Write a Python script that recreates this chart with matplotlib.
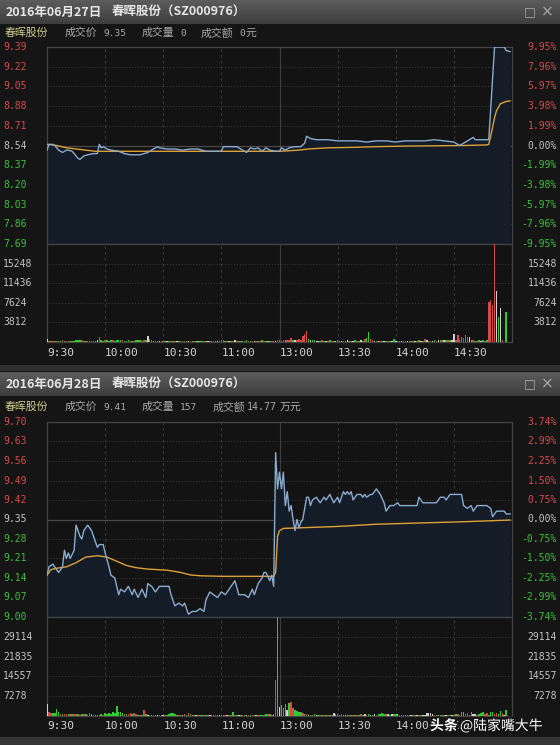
import matplotlib
matplotlib.use('Agg')
import matplotlib.pyplot as plt
import numpy as np
from matplotlib.transforms import blended_transform_factory as blend
from matplotlib.colors import LinearSegmentedColormap
from matplotlib.patches import Rectangle
import matplotlib.patheffects as pe

# ---------------- data ----------------
TIME_TICK_MIN = [0, 30, 60, 90, 120, 150, 180, 210]
TIME_LABELS = ['9:30', '10:00', '10:30', '11:00', '13:00', '13:30', '14:00', '14:30']

# panel 1 : 2016-06-27
P1_TITLE_DATE = '2016年06月27日'
P1_TITLE_NAME = '春晖股份（SZ000976）'
P1_INFO = ['9.35', '0', '0元']
P1_PRICE_TICKS = [9.39, 9.22, 9.05, 8.88, 8.71, 8.54, 8.37, 8.20, 8.03, 7.86, 7.69]
P1_PRICE_LABELS = ['9.39', '9.22', '9.05', '8.88', '8.71', '8.54', '8.37', '8.20', '8.03', '7.86', '7.69']
P1_PCT_LABELS = ['9.95%', '7.96%', '5.97%', '3.98%', '1.99%', '0.00%', '-1.99%', '-3.98%', '-5.97%', '-7.96%', '-9.95%']
P1_VOL_TICKS = [15248, 11436, 7624, 3812]
P1_VOL_MAX = 19060
P1_MIN = [0, 1, 3, 4, 6, 8, 10, 11, 13, 14, 16, 17, 19, 21, 24, 26, 27, 28, 29, 31, 33, 37, 40, 43, 48, 50,
          52, 55, 57, 58, 62, 66, 70, 74, 78, 82, 90, 91, 95, 98, 100, 103, 105, 107, 109, 111, 113, 115, 118,
          120, 121, 123, 125, 128, 131, 133, 134, 136, 139, 145, 150, 155, 160, 165, 170, 175, 180, 185, 190,
          195, 200, 205, 210, 213, 216, 220, 221, 224, 228, 231, 236, 237, 239]
P1_PRICE = [8.50, 8.55, 8.55, 8.54, 8.50, 8.48, 8.50, 8.50, 8.49, 8.47, 8.43, 8.42, 8.45, 8.46, 8.47, 8.47, 8.55,
            8.52, 8.53, 8.51, 8.50, 8.49, 8.47, 8.46, 8.46, 8.47, 8.48, 8.51, 8.53, 8.52, 8.51, 8.51, 8.50, 8.51,
            8.51, 8.49, 8.49, 8.53, 8.53, 8.53, 8.51, 8.48, 8.52, 8.51, 8.52, 8.49, 8.52, 8.50, 8.49, 8.49, 8.52,
            8.50, 8.52, 8.53, 8.53, 8.56, 8.62, 8.60, 8.59, 8.59, 8.58, 8.58, 8.58, 8.57, 8.58, 8.58, 8.57, 8.58,
            8.58, 8.58, 8.59, 8.58, 8.57, 8.54, 8.57, 8.61, 8.59, 8.59, 8.59, 9.39, 9.39, 9.36, 9.35]
P1_AVG_MIN = [0, 5, 10, 15, 25, 40, 80, 120, 130, 135, 145, 160, 170, 185, 200, 215, 227, 228, 229, 230, 231, 232,
              234, 237, 239]
P1_AVG = [8.55, 8.54, 8.52, 8.51, 8.49, 8.49, 8.49, 8.49, 8.50, 8.51, 8.52, 8.525, 8.53, 8.535, 8.537, 8.54, 8.545,
          8.55, 8.62, 8.70, 8.78, 8.84, 8.90, 8.92, 8.925]
P1_VOL = [500, 200, 150, 200, 250, 150, 200, 150, 300, 200, 150, 200, 250, 200, 150, 400, 450, 400, 350, 200,
          200, 150, 200, 250, 200, 200, 300, 1050, 300, 200, 350, 300, 250, 400, 300, 200, 300, 350, 400, 300,
          250, 200, 300, 250, 200, 250, 300, 350, 300, 250, 400, 300, 1240, 500, 300, 200, 250, 200, 150, 200,
          150, 200, 150, 200, 250, 200, 150, 200, 250, 150, 200, 150, 200, 250, 200, 150, 200, 250, 200, 150,
          200, 150, 200, 150, 250, 200, 150, 200, 150, 200, 300, 350, 250, 200, 150, 200, 250, 300, 250, 200,
          200, 250, 200, 300, 200, 250, 200, 150, 200, 250, 200, 300, 200, 250, 150, 200, 250, 200, 150, 300,
          300, 250, 300, 350, 300, 350, 700, 400, 350, 300, 600, 400, 1170, 1500, 2090, 500, 300, 350, 300, 250,
          250, 200, 300, 250, 200, 250, 300, 200, 250, 200, 300, 250, 200, 250, 200, 300, 250, 200, 250, 300,
          250, 200, 300, 250, 600, 700, 1950, 500, 300, 250, 200, 200, 150, 200, 200, 200, 250, 200, 200, 500,
          200, 250, 200, 150, 200, 250, 200, 150, 200, 250, 200, 250, 300, 200, 250, 600, 300, 250, 200, 250,
          300, 250, 300, 350, 300, 400, 300, 350, 300, 300, 1500, 400, 1430, 300, 900, 700, 1300, 1000, 900, 300,
          300, 250, 250, 300, 250, 300, 250, 300, 7820, 8210, 7170, 19100, 9970, 4950, 6520, 300, 0, 5870, 0, 0]
P1_VOL_COLOR = ("wrgrrgggrgrgrgggggrr" "grgrrgwrggrgggrggggr" "gggrgrgggrrgwrrgrgwr" "rgwgrgrwgrgrgwrgrgwg"
                "grgwrgrgwrrrgrwgrwrg" "grggrgrwrgrgrgwgrgwr" "rgrgrrrgwrrrrrrgwggw" "wgrgwrgrgwrgwrgwrgwg"
                "rgwgrggrrwgwrgwgrgwg" "wrgwgrwgrgwrgwgrwgrw" "grwgrwgrgwwrrgrrrrwg" "rgrgwgrgrrrrwgwrggwg")

# panel 2 : 2016-06-28
P2_TITLE_DATE = '2016年06月28日'
P2_TITLE_NAME = '春晖股份（SZ000976）'
P2_INFO = ['9.41', '157', '14.77', '万元']
P2_PRICE_TICKS = [9.70, 9.63, 9.56, 9.49, 9.42, 9.35, 9.28, 9.21, 9.14, 9.07, 9.00]
P2_PRICE_LABELS = ['9.70', '9.63', '9.56', '9.49', '9.42', '9.35', '9.28', '9.21', '9.14', '9.07', '9.00']
P2_PCT_LABELS = ['3.74%', '2.99%', '2.25%', '1.50%', '0.75%', '0.00%', '-0.75%', '-1.50%', '-2.25%', '-2.99%', '-3.74%']
P2_VOL_TICKS = [29114, 21835, 14557, 7278]
P2_VOL_MAX = 36392
P2_MIN = [0, 1, 3, 4, 6, 8, 9, 10, 11, 12, 14, 15, 17, 18, 19, 21, 23, 25, 26, 27, 29, 30, 32, 33, 35, 37, 38, 40,
          42, 44, 45, 47, 49, 51, 52, 54, 56, 58, 61, 63, 64, 66, 68, 70, 71, 73, 75, 77, 79, 81, 82, 84, 86, 88,
          90, 92, 94, 95, 97, 99, 100, 102, 104, 106, 107, 109, 111, 112, 113, 115, 116, 117, 118, 119, 120, 121,
          122, 123, 124, 125, 126, 127, 128, 129, 130, 131, 132, 134, 135, 136, 137, 139, 141, 143, 144, 146, 148,
          150, 151, 153, 154, 155, 156, 157, 158, 160, 162, 163, 164, 165, 167, 168, 170, 172, 174, 175, 177, 179,
          181, 182, 191, 192, 194, 201, 203, 205, 206, 208, 210, 212, 214, 215, 217, 219, 220, 222, 227, 229, 230,
          232, 236, 237, 239]
P2_PRICE = [9.15, 9.18, 9.19, 9.18, 9.16, 9.18, 9.24, 9.21, 9.23, 9.21, 9.24, 9.33, 9.29, 9.28, 9.31, 9.33, 9.31,
            9.27, 9.25, 9.26, 9.26, 9.23, 9.18, 9.15, 9.14, 9.08, 9.10, 9.09, 9.11, 9.08, 9.10, 9.07, 9.10, 9.07,
            9.12, 9.11, 9.09, 9.11, 9.11, 9.11, 9.08, 9.04, 9.05, 9.04, 9.05, 9.01, 9.02, 9.02, 9.03, 9.02, 9.06,
            9.09, 9.08, 9.07, 9.09, 9.08, 9.10, 9.11, 9.13, 9.08, 9.08, 9.08, 9.07, 9.10, 9.08, 9.12, 9.14, 9.16,
            9.16, 9.13, 9.15, 9.11, 9.59, 9.46, 9.52, 9.46, 9.52, 9.40, 9.45, 9.38, 9.40, 9.35, 9.31, 9.35, 9.32,
            9.34, 9.35, 9.43, 9.43, 9.40, 9.42, 9.43, 9.41, 9.43, 9.42, 9.44, 9.41, 9.43, 9.41, 9.45, 9.44, 9.45,
            9.44, 9.45, 9.42, 9.44, 9.44, 9.43, 9.44, 9.43, 9.44, 9.44, 9.46, 9.44, 9.41, 9.38, 9.40, 9.40, 9.41,
            9.40, 9.40, 9.43, 9.41, 9.41, 9.43, 9.43, 9.42, 9.44, 9.44, 9.44, 9.44, 9.40, 9.39, 9.40, 9.38, 9.40,
            9.40, 9.39, 9.36, 9.38, 9.38, 9.37, 9.37]
P2_AVG_MIN = [0, 2, 5, 10, 15, 20, 26, 31, 36, 41, 46, 52, 62, 69, 74, 79, 90, 117, 118, 119, 120, 122, 130, 150,
              170, 190, 215, 239]
P2_AVG = [9.15, 9.17, 9.175, 9.18, 9.195, 9.215, 9.22, 9.215, 9.20, 9.185, 9.177, 9.172, 9.168, 9.16, 9.151, 9.148,
          9.146, 9.146, 9.16, 9.29, 9.31, 9.318, 9.32, 9.325, 9.333, 9.337, 9.342, 9.348]
P2_VOL = [4350, 1490, 1100, 1100, 1000, 2490, 1490, 870, 870, 750, 800, 700, 750, 600, 650, 700, 600, 550, 650, 600,
          600, 500, 1000, 600, 500, 450, 500, 550, 600, 500, 1000, 700, 1100, 900, 1300, 1000, 3600, 1300, 1300, 1000,
          900, 800, 700, 1000, 900, 1100, 700, 500, 400, 450, 2360, 600, 400, 350, 300, 300, 400, 350, 300, 300,
          350, 400, 500, 900, 1100, 1000, 700, 400, 350, 400, 350, 600, 500, 1000, 700, 400, 350, 300, 300, 350,
          300, 350, 300, 300, 400, 350, 300, 300, 350, 300, 300, 400, 350, 300, 400, 350, 1620, 400, 350, 300,
          300, 350, 300, 400, 350, 300, 300, 350, 300, 400, 350, 300, 400, 600, 700, 600, 500, 800, 13050, 36400,
          3480, 4100, 3000, 4350, 2240, 4720, 5100, 2860, 2240, 1800, 1620, 1400, 1000, 800, 600, 500, 400, 500, 600, 400,
          400, 350, 300, 350, 400, 300, 350, 350, 1100, 700, 600, 500, 700, 400, 350, 400, 350, 300, 350, 300,
          350, 400, 700, 400, 800, 400, 600, 300, 350, 700, 400, 700, 800, 1000, 600, 700, 600, 400, 700, 700,
          600, 700, 400, 350, 300, 350, 300, 350, 300, 400, 300, 350, 400, 350, 300, 350, 1000, 1100, 1000, 900,
          400, 350, 300, 350, 400, 350, 300, 350, 400, 350, 300, 870, 600, 500, 1300, 1490, 600, 1000, 500, 1370,
          600, 870, 500, 600, 1120, 1490, 600, 1100, 500, 1490, 1300, 700, 1100, 600, 1870, 1000, 500, 2110, 0, 0]
P2_VOL_COLOR = ("wrrggggrgrrgrgrrgrgr" "grrgrggrgrgggggggggg" "rgrrgrrgrgrgwrgrgwrg" "wrggggggrgwrgrgrgwrg"
                "grgrwrgrgwrgrwrggrgw" "grgwrgrgwrggggrgrgrg" "wgggwgrrggggrgrwgrgw" "grgrgrgrwgrgrgwgrgrg"
                "rgrgwrgwgwrggggrwgwg" "gwrgrgrgwrgwrgwwwwww" "rgwgrgwrgwrgrrggrrgg" "wwrgggrrgggrrggrwggg")

INFO_NAME = '春晖股份'
INFO_KEYS = ['成交价', '成交量', '成交额']
WATERMARK = ['头条', '@陆家嘴大牛']

# ---------------- style ----------------
W, H = 560, 745
BG = '#151515'
PLOT_BG = '#131313'
GRID = '#3a3a3a'
FRAME = '#444444'
RED = '#d84a4a'
GREEN = '#3cc03c'
GREY = '#c4c4c4'
PRICE_C = '#8aaccf'
AVG_C = '#dda235'
FILL_C = '#141c27'
BAR_C = {'r': '#d64a4a', 'g': '#2fcc2f', 'w': '#d0d0d0'}
CJK = ['Noto Sans CJK SC', 'DejaVu Sans']
MONO = ['DejaVu Sans Mono']

fig = plt.figure(figsize=(W / 100, H / 100), dpi=100)
fig.patch.set_facecolor(BG)


def fx(px):
    return px / W


def fy(py):
    return 1 - py / H


title_cmap = LinearSegmentedColormap.from_list('tb', ['#5c5c5c', '#3e3e3e'])


def title_bar(top, bottom, date, name):
    ax = fig.add_axes([0, fy(bottom), 1, (bottom - top) / H])
    ax.imshow(np.linspace(0, 1, 32).reshape(-1, 1), aspect='auto', cmap=title_cmap,
              extent=[0, 1, 0, 1], interpolation='bilinear')
    ax.set_axis_off()
    cy = fy((top + bottom) / 2)
    fig.text(fx(6), cy, date, family=CJK, fontsize=9, fontweight='bold', color='#e6e6e6', va='center')
    fig.text(fx(112), cy, name, family=CJK, fontsize=9, fontweight='bold', color='#e6e6e6', va='center')
    fig.text(fx(530), cy, '□', family=['DejaVu Sans'], fontsize=9, color='#a8a8a8', va='center', ha='center')
    fig.text(fx(547), cy, '×', family=['DejaVu Sans'], fontsize=11, color='#a8a8a8', va='center', ha='center')


def info_row(y, vals, wide=False):
    cy = fy(y)
    fig.text(fx(5), cy, INFO_NAME, family=CJK, fontsize=7.8, color='#cfd08e', va='center')
    fig.text(fx(65), cy, INFO_KEYS[0], family=CJK, fontsize=7.8, color='#a9a9a9', va='center')
    fig.text(fx(103), cy, vals[0], family=MONO, fontsize=6.8, color='#a9a9a9', va='center')
    fig.text(fx(142), cy, INFO_KEYS[1], family=CJK, fontsize=7.8, color='#a9a9a9', va='center')
    fig.text(fx(180), cy, vals[1], family=MONO, fontsize=6.8, color='#a9a9a9', va='center')
    kx = 213 if wide else 201
    fig.text(fx(kx), cy, INFO_KEYS[2], family=CJK, fontsize=7.8, color='#a9a9a9', va='center')
    if wide:
        fig.text(fx(247), cy, vals[2], family=MONO, fontsize=7.2, color='#a9a9a9', va='center')
        fig.text(fx(280), cy, vals[3], family=CJK, fontsize=7.8, color='#a9a9a9', va='center')
    else:
        fig.text(fx(239), cy, vals[2][:-1], family=MONO, fontsize=6.8, color='#a9a9a9', va='center')
        fig.text(fx(245), cy, vals[2][-1], family=CJK, fontsize=7.8, color='#a9a9a9', va='center')


def style_ax(ax):
    ax.set_facecolor(PLOT_BG)
    ax.set_xticks([])
    ax.set_yticks([])
    for s in ax.spines.values():
        s.set_color(FRAME)
        s.set_linewidth(0.9)
    ax.set_xlim(0, 240)
    for m in TIME_TICK_MIN[1:]:
        if m == 120:
            ax.axvline(m, color='#3e3e3e', lw=0.8, zorder=1)
        else:
            ax.axvline(m, color=GRID, lw=0.7, ls=(0, (3, 3)), zorder=1)


def panel(top, mid, bottom, tlabel_y, ticks, plabels, pcts, vticks, vmax,
          pmin, price, amin, avg, vol, vcol):
    ax_p = fig.add_axes([fx(47), fy(mid), fx(512) - fx(47), (mid - top) / H])
    ax_v = fig.add_axes([fx(47), fy(bottom), fx(512) - fx(47), (bottom - mid) / H])
    style_ax(ax_p)
    style_ax(ax_v)
    lo, hi = ticks[-1], ticks[0]
    ax_p.set_ylim(lo, hi)
    ax_v.set_ylim(0, vmax)
    centre = ticks[len(ticks) // 2]
    for t in ticks[1:-1]:
        if t == centre:
            ax_p.axhline(t, color='#4a4a4a', lw=0.9, zorder=1)
        else:
            ax_p.axhline(t, color=GRID, lw=0.7, ls=(0, (1, 2)), zorder=1)
    for t in vticks:
        ax_v.axhline(t, color=GRID, lw=0.7, ls=(0, (1, 2)), zorder=1)
    ax_p.fill_between(pmin, price, lo, color=FILL_C, lw=0, zorder=2)
    ax_p.plot(pmin, price, color=PRICE_C, lw=1.0, zorder=4)
    ax_p.plot(amin, avg, color=AVG_C, lw=1.0, zorder=3)

    vol_arr = np.asarray(vol, dtype=float)
    codes = np.array(list(vcol))
    minutes = np.arange(len(vol_arr))
    for code, colr in BAR_C.items():
        sel = codes == code
        ax_v.bar(minutes[sel], vol_arr[sel], width=0.8, color=colr, lw=0, zorder=3)

    trl = blend(fig.transFigure, ax_p.transData)
    for t, lab, pc in zip(ticks, plabels, pcts):
        c = RED if t > centre else (GREEN if t < centre else GREY)
        fig.text(fx(3), t, lab, transform=trl, family=MONO, fontsize=7, color=c, va='center', ha='left')
        fig.text(fx(557), t, pc, transform=trl, family=MONO, fontsize=7, color=c, va='center', ha='right')
    trv = blend(fig.transFigure, ax_v.transData)
    for t in vticks:
        fig.text(fx(3), t, str(t), transform=trv, family=MONO, fontsize=7, color=GREY, va='center', ha='left')
        fig.text(fx(557), t, str(t), transform=trv, family=MONO, fontsize=7, color=GREY, va='center', ha='right')
    trt = blend(ax_v.transData, fig.transFigure)
    for m, lab in zip(TIME_TICK_MIN, TIME_LABELS):
        fig.text(m, fy(tlabel_y), lab, transform=trt, family=MONO, fontsize=8, color='#d4d4d4',
                 va='center', ha='left', zorder=1)


# panel 1
title_bar(0, 24, P1_TITLE_DATE, P1_TITLE_NAME)
info_row(33, P1_INFO)
panel(47, 244, 342, 353, P1_PRICE_TICKS, P1_PRICE_LABELS, P1_PCT_LABELS, P1_VOL_TICKS, P1_VOL_MAX,
      P1_MIN, P1_PRICE, P1_AVG_MIN, P1_AVG, P1_VOL, P1_VOL_COLOR)
fig.patches.append(Rectangle((0, fy(371)), 1, (371 - 365) / H, transform=fig.transFigure,
                             facecolor='#303030', lw=0, zorder=0))

# panel 2
title_bar(372, 396, P2_TITLE_DATE, P2_TITLE_NAME)
info_row(407, P2_INFO, wide=True)
panel(422, 617, 716, 726, P2_PRICE_TICKS, P2_PRICE_LABELS, P2_PCT_LABELS, P2_VOL_TICKS, P2_VOL_MAX,
      P2_MIN, P2_PRICE, P2_AVG_MIN, P2_AVG, P2_VOL, P2_VOL_COLOR)
fig.patches.append(Rectangle((0, 0), 1, (745 - 737) / H, transform=fig.transFigure,
                             facecolor='#353535', lw=0, zorder=0))

# watermark (overlays the 14:30 label, as in the screenshot)
stroke = [pe.withStroke(linewidth=3, foreground='#141414')]
fig.text(fx(430), fy(726), WATERMARK[0], family=CJK, fontsize=10, fontweight='bold', color='white',
         va='center', ha='left', zorder=10, path_effects=stroke)
fig.text(fx(460), fy(726), WATERMARK[1], family=CJK, fontsize=10, color='white',
         va='center', ha='left', zorder=10, path_effects=stroke)

fig.savefig('out.png', dpi=100, facecolor=fig.get_facecolor())
